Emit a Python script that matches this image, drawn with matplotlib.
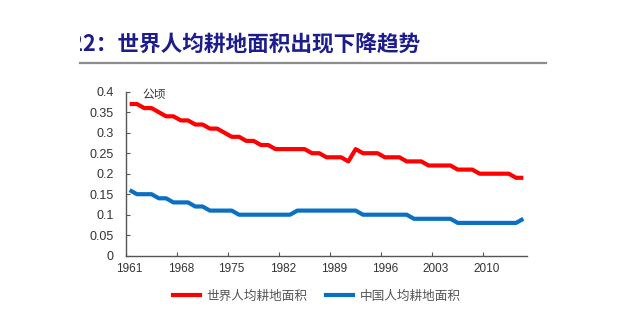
import matplotlib
matplotlib.use("Agg")
import matplotlib.pyplot as plt
from matplotlib.transforms import Bbox, TransformedBbox
from matplotlib.lines import Line2D
import numpy as np

plt.rcParams['font.family'] = ['Liberation Sans', 'Noto Sans CJK SC', 'DejaVu Sans']

years = list(range(1961, 2016))
world = [0.37, 0.37, 0.36, 0.36, 0.35, 0.34, 0.34, 0.33, 0.33, 0.32,
         0.32, 0.31, 0.31, 0.30, 0.29, 0.29, 0.28, 0.28, 0.27, 0.27,
         0.26, 0.26, 0.26, 0.26, 0.26, 0.25, 0.25, 0.24, 0.24, 0.24,
         0.23, 0.26, 0.25, 0.25, 0.25, 0.24, 0.24, 0.24, 0.23, 0.23,
         0.23, 0.22, 0.22, 0.22, 0.22, 0.21, 0.21, 0.21, 0.20, 0.20,
         0.20, 0.20, 0.20, 0.19, 0.19]
china = [0.16, 0.15, 0.15, 0.15, 0.14, 0.14, 0.13, 0.13, 0.13, 0.12,
         0.12, 0.11, 0.11, 0.11, 0.11, 0.10, 0.10, 0.10, 0.10, 0.10,
         0.10, 0.10, 0.10, 0.11, 0.11, 0.11, 0.11, 0.11, 0.11, 0.11,
         0.11, 0.11, 0.10, 0.10, 0.10, 0.10, 0.10, 0.10, 0.10, 0.09,
         0.09, 0.09, 0.09, 0.09, 0.09, 0.08, 0.08, 0.08, 0.08, 0.08,
         0.08, 0.08, 0.08, 0.08, 0.09]
label_years = [1961, 1968, 1975, 1982, 1989, 1996, 2003, 2010]
y_ticks = [0, 0.05, 0.1, 0.15, 0.2, 0.25, 0.3, 0.35, 0.4]
series_names = ['世界人均耕地面积', '中国人均耕地面积']
title_text = '图表22：世界人均耕地面积出现下降趋势'
unit_text = '公顷'

W, H = 640, 322
fig = plt.figure(figsize=(W / 100, H / 100), dpi=100)

# plot area in pixel terms
left, right, top, bottom = 126, 527, 91.7, 255.7
ax = fig.add_axes([left / W, 1 - bottom / H, (right - left) / W, (bottom - top) / H])

x = np.arange(len(years))
red = '#FF0000'
blue = '#0A70C4'
ax.plot(x, world, color=red, lw=3.0, solid_joinstyle='round', solid_capstyle='butt')
ax.plot(x, china, color=blue, lw=3.0, solid_joinstyle='round', solid_capstyle='butt')

ax.set_xlim(-0.5, len(years) - 0.5)
ax.set_ylim(0, 0.4)

for s in ['top', 'right']:
    ax.spines[s].set_visible(False)
for s in ['left', 'bottom']:
    ax.spines[s].set_color('#555555')
    ax.spines[s].set_linewidth(1.0)

# tick marks sit on category boundaries, labels at category centres
idx = [years.index(y) for y in label_years]
ax.set_xticks([i - 0.5 for i in idx])
ax.set_xticklabels([])
ax.set_xticks(idx, minor=True)
ax.set_xticklabels([str(y) for y in label_years], minor=True,
                   fontsize=8.5, color='#333333', family=['Liberation Sans Narrow', 'Liberation Sans'])
ax.tick_params(axis='x', which='major', direction='in', length=3, color='#555555')
ax.tick_params(axis='x', which='minor', length=0, pad=5)

ax.set_yticks(y_ticks)
ax.set_yticklabels(['0' if v == 0 else f'{v:g}' for v in y_ticks], fontsize=9, color='#333333')
ax.tick_params(axis='y', direction='in', length=3, color='#555555', pad=9)

ax.text(0.042, 0.985, unit_text, transform=ax.transAxes, fontsize=8.5,
        family=['Noto Sans CJK SC'], color='#333333', va='center', ha='left')

# title, clipped on the left edge
t = fig.text(27 / W, 1 - 45 / H, title_text, fontsize=15.6, fontweight='bold',
             color='#1C1C8C', family=['Noto Sans CJK SC', 'DejaVu Sans'], va='center', ha='left')
t.set_clip_on(True)
t.set_clip_box(TransformedBbox(Bbox([[80 / W, 0], [1, 1]]), fig.transFigure))

fig.add_artist(Line2D([80 / W, 546 / W], [1 - 62.7 / H, 1 - 62.7 / H],
                      transform=fig.transFigure, color='#8C8C8C', lw=1.6))

handles = [Line2D([], [], color=red, lw=3.0), Line2D([], [], color=blue, lw=3.0)]
leg = fig.legend(handles, series_names, loc='center', bbox_to_anchor=(317 / W, 1 - 296 / H),
                 ncol=2, frameon=False, handlelength=2.15, handletextpad=0.55, columnspacing=1.45,
                 borderpad=0, prop={'family': 'Noto Sans CJK SC', 'size': 9.1})
for txt in leg.get_texts():
    txt.set_color('#555555')

fig.savefig('out.png', dpi=100)
